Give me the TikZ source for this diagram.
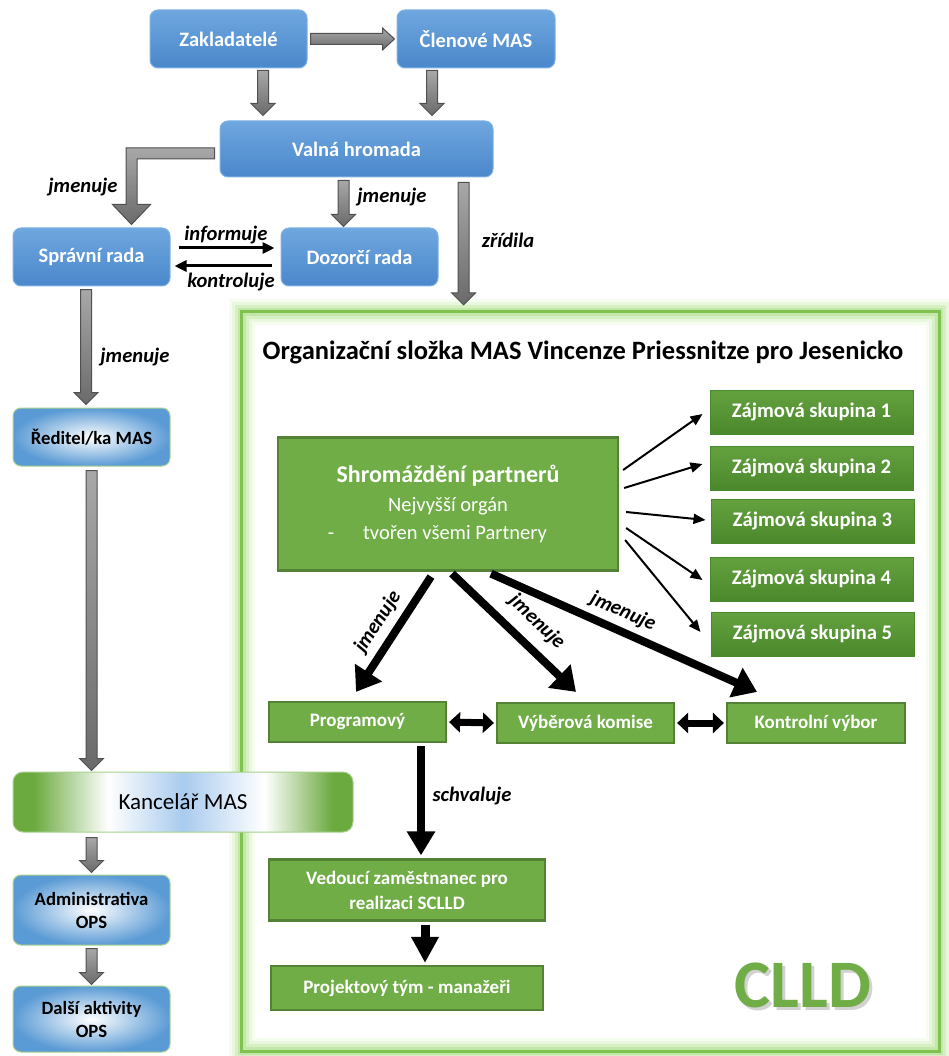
\documentclass[tikz,border=0pt]{standalone}
\usepackage{fontspec}
\setmainfont{Carlito}
\usetikzlibrary{calc,arrows.meta}
\definecolor{blueT}{HTML}{6FA7DF}
\definecolor{blueB}{HTML}{4A87CB}
\definecolor{blueL}{HTML}{7FB2E3}
\definecolor{blueR}{HTML}{5B9BD5}
\definecolor{greenL}{HTML}{A9D18E}
\definecolor{gfill}{HTML}{70AD47}
\definecolor{gdark}{HTML}{548235}
\definecolor{zajT}{HTML}{64A13E}
\definecolor{zajB}{HTML}{4A882C}
\definecolor{kg}{HTML}{6BAA3F}
\definecolor{kb}{HTML}{A9CBEE}
\definecolor{glowA}{HTML}{F5FCF0}
\definecolor{glowB}{HTML}{E8F7DD}
\definecolor{glowC}{HTML}{D6F0C4}
\definecolor{glowD}{HTML}{C2E7A8}
\definecolor{frameL}{HTML}{80C250}
\definecolor{grT}{HTML}{A8A8A8}
\definecolor{grB}{HTML}{6A6A6A}
\definecolor{grD}{HTML}{505050}
\pgfdeclarehorizontalshading{kanc}{100bp}{color(0bp)=(kg); color(25bp)=(kg); color(28bp)=(kg); color(39bp)=(white); color(50bp)=(kb); color(62bp)=(white); color(72bp)=(kg); color(75bp)=(kg); color(100bp)=(kg)}
\begin{document}
\begin{tikzpicture}[x=1pt,y=-1pt,
  bluebox/.style={rectangle, rounded corners=8, top color=blueT, bottom color=blueB, draw=blueL, line width=1, text=white, font=\bfseries\fontsize{20.5}{24}\selectfont, minimum width=157, minimum height=58, inner sep=0},
  radbox/.style={rectangle, rounded corners=8, inner color=white, outer color=blueR, draw=greenL, line width=1, text=black, align=center, font=\bfseries\fontsize{18.7}{23}\selectfont, minimum width=157, inner sep=0},
  gbox/.style={rectangle, fill=gfill, draw=gdark, line width=2.2, text=white, align=center, font=\bfseries\fontsize{19}{25}\selectfont, inner sep=0},
  zbox/.style={rectangle, top color=zajT, bottom color=zajB, draw=zajB, line width=1, text=white, font=\bfseries\fontsize{20.7}{24}\selectfont, minimum width=203, minimum height=44, inner sep=0},
  lbl/.style={font=\bfseries\itshape\fontsize{20.6}{24}\selectfont, inner sep=0},
  gray arrow/.style={draw=grD, line width=1, top color=grT, bottom color=grB},
  gdown/.style={gray arrow, to path={let \p1=(\tikztostart), \p2=(\tikztotarget) in
     (\x1-5.5pt,\y1) -- (\x1-5.5pt,\y2+12pt) -- (\x1-12pt,\y2+12pt) -- (\x1,\y2) -- (\x1+12pt,\y2+12pt) -- (\x1+5.5pt,\y2+12pt) -- (\x1+5.5pt,\y1) -- cycle}},
  gright/.style={gray arrow, to path={let \p1=(\tikztostart), \p2=(\tikztotarget) in
     (\x1,\y1+5.5pt) -- (\x2-12pt,\y1+5.5pt) -- (\x2-12pt,\y1+11pt) -- (\x2,\y1) -- (\x2-12pt,\y1-11pt) -- (\x2-12pt,\y1-5.5pt) -- (\x1,\y1-5.5pt) -- cycle}},
  gelbow/.style={gray arrow, to path={let \p1=(\tikztostart), \p2=(\tikztotarget) in
     (\x1,\y1+5.5pt) -- (\x2-5.5pt,\y1+5.5pt) -- (\x2-5.5pt,\y2+20pt) -- (\x2-19pt,\y2+20pt) -- (\x2,\y2) -- (\x2+19pt,\y2+20pt) -- (\x2+5.5pt,\y2+20pt) -- (\x2+5.5pt,\y1-5.5pt) -- (\x1,\y1-5.5pt) -- cycle}},
  thin arrow/.style={line width=2, -{Triangle[length=12pt,width=10pt]}},
  thick arrow/.style={line width=8, -{Triangle[length=23pt,width=31pt]}},
  dbl arrow/.style={line width=7, {Triangle[length=11pt,width=20pt]}-{Triangle[length=11pt,width=20pt]}},
  ctl arrow/.style={line width=3, -{Triangle[length=12pt,width=11pt]}}
]
\useasboundingbox (0,0) rectangle (949,1056);
\fill[white] (0,0) rectangle (949,1056);

% frame
\node[minimum width=697, minimum height=739, inner sep=0] (frame) at (590.5,681.5) {};
\draw[line width=26, color=glowA] (frame.north west) rectangle (frame.south east);
\draw[line width=20, color=glowB] (frame.north west) rectangle (frame.south east);
\draw[line width=14, color=glowC] (frame.north west) rectangle (frame.south east);
\draw[line width=8, color=glowD] (frame.north west) rectangle (frame.south east);
\draw[line width=3, color=frameL] (frame.north west) rectangle (frame.south east);

% left column
\node[bluebox] (zak) at (228.5,39) {Zakladatelé};
\node[bluebox, minimum width=158] (clen) at (476,39) {Členové MAS};
\node[bluebox, minimum width=273, minimum height=56] (valna) at (356.5,149) {Valná hromada};
\node[bluebox] (sprav) at (91.5,257) {Správní rada};
\node[bluebox] (dozor) at (359.5,257) {Dozorčí rada};
\node[radbox, minimum height=58] (redit) at (91.5,437) {Ředitel/ka MAS};
\node[rectangle, rounded corners=10, shade, shading=kanc, draw=greenL, line width=1, minimum width=340, minimum height=60, font=\fontsize{23}{26}\selectfont] (kanc) at (183,802) {Kancelář MAS};
\node[radbox, minimum height=70] (admin) at (91.5,910) {Administrativa\\OPS};
\node[radbox, minimum height=66] (dalsi) at (91.5,1019) {Další aktivity\\OPS};

% gray arrows
\draw[gright] ([xshift=3pt]zak.east) to ([xshift=-2pt]clen.west);
\draw[gdown] ($(zak.south)+(34.5,2)$) to ($(valna.north)+(-93.5,-5)$);
\draw[gdown] ($(clen.south)+(-44,2)$) to ($(valna.north)+(75.5,-5)$);
\draw[gelbow] ($(valna.west)+(-5,4.5)$) to ($(sprav.north)+(40,-3)$);
\draw[gdown] ($(valna.south)+(-13,3)$) to ($(dozor.north)+(-16,-1)$);
\draw[gdown] ($(valna.south)+(107,5)$) to ($(frame.north)+(-127,-7)$);
\draw[gdown] ($(sprav.south)+(-5.5,3)$) to ($(redit.north)+(-5.5,-3)$);
\draw[gdown] ($(redit.south)+(0,4)$) to ($(kanc.north)+(-91.5,-1)$);
\draw[gdown] ($(kanc.south)+(-91.5,5)$) to ($(admin.north)+(0,-2)$);
\draw[gdown] ($(admin.south)+(0,3)$) to ($(dalsi.north)+(0,-1)$);

\node[lbl] (l1) at (83,187) {jmenuje};
\node[lbl] (l2) at (392,197) {jmenuje};
\node[lbl] (l3) at (508,240) {zřídila};
\node[lbl] (l4) at (135,357) {jmenuje};

% informuje / kontroluje
\draw[ctl arrow] ($(sprav.east)+(8,-9)$) to ($(dozor.west)+(-6,-9)$);
\draw[ctl arrow] ($(dozor.west)+(-9,9)$) to ($(sprav.east)+(4,9)$);
\node[lbl] (l5) at (226,235) {informuje};
\node[lbl] (l6) at (231,282) {kontroluje};

% organizacni slozka
\node[font=\bfseries\fontsize{26.5}{30}\selectfont, inner sep=0] (title) at (583,352) {Organizační složka MAS Vincenze Priessnitze pro Jesenicko};

\node[gbox, minimum width=340, minimum height=133, font=\fontsize{20.5}{28.5}\selectfont] (shrom) at (448,504)
  {{\fontsize{24}{28}\selectfont\textbf{Shromáždění partnerů}}\\Nejvyšší orgán\\\hspace*{14pt}\makebox[0pt][r]{-\hspace{29pt}}tvořen všemi Partnery};

\node[zbox] (zaj1) at (811.5,412) {Zájmová skupina 1};
\node[zbox] (zaj2) at (811.5,468) {Zájmová skupina 2};
\node[zbox] (zaj3) at (812.5,521) {Zájmová skupina 3};
\node[zbox] (zaj4) at (811.5,579) {Zájmová skupina 4};
\node[zbox] (zaj5) at (812.5,634) {Zájmová skupina 5};

\draw[thin arrow] ($(shrom.east)+(4,-34)$) to ($(zaj1.west)+(-7,2)$);
\draw[thin arrow] ($(shrom.east)+(5,-16)$) to ($(zaj2.west)+(-7,-4)$);
\draw[thin arrow] ($(shrom.east)+(7,8)$) to ($(zaj3.west)+(-5,-1)$);
\draw[thin arrow] ($(shrom.east)+(7,24)$) to ($(zaj4.west)+(-7,1)$);
\draw[thin arrow] ($(shrom.east)+(6,36)$) to ($(zaj5.west)+(-10,-2)$);

\node[gbox, minimum width=177, minimum height=40] (prog) at (357.5,722) {Programový};
\node[gbox, minimum width=177, minimum height=40] (vyber) at (585.5,723) {Výběrová komise};
\node[gbox, minimum width=178, minimum height=40] (kontr) at (816,723) {Kontrolní výbor};
\node[gbox, minimum width=276, minimum height=61] (vedou) at (407,890) {Vedoucí zaměstnanec pro\\realizaci SCLLD};
\node[gbox, minimum width=272, minimum height=44] (proj) at (407,988) {Projektový tým - manažeři};

\draw[thick arrow] ($(shrom.south)+(-17,5)$) to ($(prog.north)+(-1.5,-9)$);
\draw[thick arrow] ($(shrom.south)+(4,2)$) to ($(vyber.north)+(-9.5,-10)$);
\draw[thick arrow] ($(shrom.south)+(43,2)$) to ($(kontr.north)+(-59,-10)$);
\node[lbl, rotate=57] (j1) at (378,622) {jmenuje};
\node[lbl, rotate=-44] (j2) at (537,622) {jmenuje};
\node[lbl, rotate=-24] (j3) at (623,612) {jmenuje};

\draw[dbl arrow] ([xshift=2pt]prog.east) to ([xshift=-2pt]vyber.west);
\draw[dbl arrow] ([xshift=2pt]vyber.east) to ([xshift=-2pt]kontr.west);

\draw[line width=8, -{Triangle[length=24pt,width=27pt]}] ($(prog.south)+(63.5,3)$) to ($(vedou.north)+(14,-3)$);
\node[lbl] (l7) at (472,796) {schvaluje};
\draw[line width=9, -{Triangle[length=26pt,width=26pt]}] ($(vedou.south)+(18,3)$) to ($(proj.north)+(18,-2)$);

\node[text=gray!50, opacity=0.7, font=\bfseries\fontsize{68}{72}\selectfont] (clldsh) at (806,988) {CLLD};
\node[text=gfill, font=\bfseries\fontsize{68}{72}\selectfont] (clld) at (803,985) {CLLD};
\end{tikzpicture}
\end{document}
